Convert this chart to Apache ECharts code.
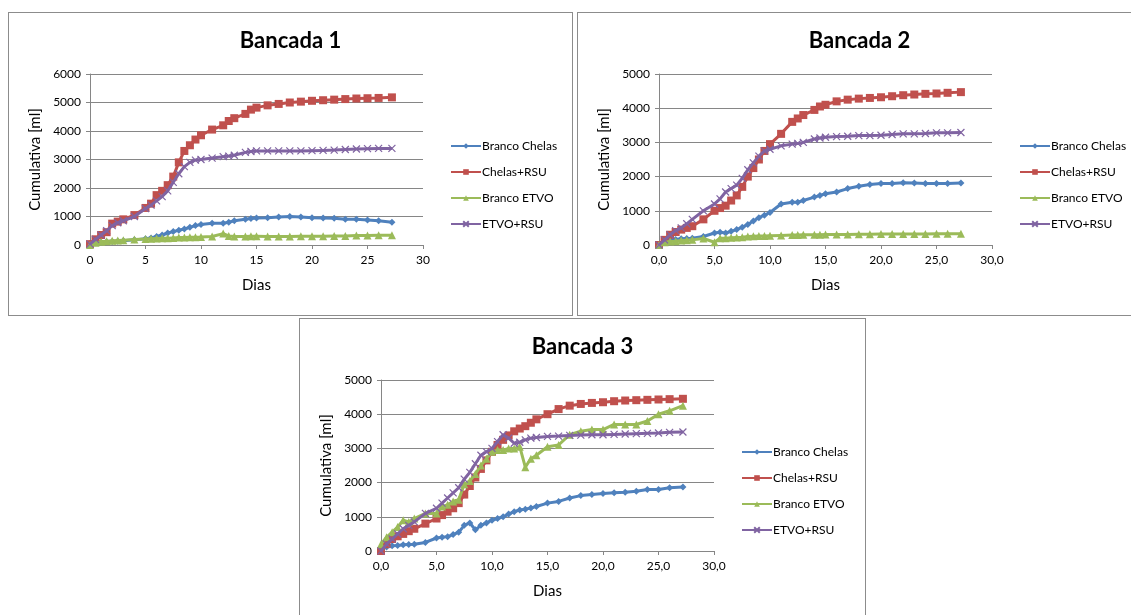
<!DOCTYPE html>
<html lang="pt">
<head>
    <meta charset="UTF-8">
    <title>Bancadas</title>
    <script src="https://cdn.jsdelivr.net/npm/echarts@6/dist/echarts.min.js"></script>
    <style>
        body { margin: 0; background: #fff; width: 1131px; height: 615px; overflow: hidden; position: relative; }
        .painel { position: absolute; border: 1px solid #8c8c8c; background: #fff; box-sizing: border-box; }
    </style>
</head>
<body>
<div id="b1" class="painel" style="left:8px;top:12px;width:565px;height:304px;"></div>
<div id="b2" class="painel" style="left:577px;top:12px;width:565px;height:304px;"></div>
<div id="b3" class="painel" style="left:299px;top:318px;width:567px;height:304px;"></div>

<script>
    // nomes das séries
    var nomes = ['Branco Chelas', 'Chelas+RSU', 'Branco ETVO', 'ETVO+RSU'];
    var cores = ['#4f81bd', '#c0504d', '#9bbb59', '#8064a2'];

    // Bancada 1 e 2 - dias
    var dias12 = [0, 0.5, 1, 1.5, 2, 2.5, 3, 4, 5, 5.5, 6, 6.5, 7, 7.5, 8, 8.5, 9, 9.5, 10, 11, 12, 12.5, 13, 14, 14.5, 15, 16, 17, 18, 19, 20, 21, 22, 23, 24, 25, 26, 27.2];

    // Bancada 1
    var b1BrancoChelas = [50, 80, 100, 110, 120, 130, 150, 180, 220, 250, 300, 350, 420, 470, 520, 560, 620, 680, 720, 760, 760, 800, 850, 900, 930, 950, 960, 980, 1000, 980, 960, 950, 940, 900, 900, 880, 850, 800];
    var b1ChelasRSU = [30, 200, 350, 450, 750, 820, 900, 1050, 1300, 1450, 1750, 1900, 2100, 2400, 2900, 3300, 3500, 3700, 3850, 4050, 4200, 4350, 4450, 4600, 4750, 4820, 4900, 4950, 5000, 5030, 5060, 5080, 5100, 5120, 5140, 5150, 5160, 5180];
    var b1BrancoETVO = [0, 80, 110, 130, 150, 160, 170, 190, 210, 220, 230, 235, 240, 250, 260, 265, 270, 275, 280, 300, 400, 320, 300, 300, 310, 310, 300, 300, 300, 310, 310, 310, 320, 320, 330, 330, 340, 340];
    var b1ETVORSU = [30, 200, 350, 500, 680, 780, 850, 1000, 1280, 1400, 1550, 1700, 1900, 2200, 2500, 2750, 2900, 2980, 3000, 3050, 3100, 3120, 3150, 3250, 3280, 3300, 3300, 3300, 3300, 3300, 3310, 3320, 3330, 3350, 3370, 3380, 3390, 3390];

    // Bancada 2
    var b2BrancoChelas = [0, 100, 150, 160, 180, 190, 200, 250, 350, 370, 350, 400, 450, 520, 600, 700, 800, 870, 950, 1200, 1250, 1250, 1300, 1400, 1450, 1500, 1550, 1650, 1720, 1770, 1800, 1800, 1820, 1810, 1800, 1800, 1800, 1810];
    var b2ChelasRSU = [0, 150, 300, 380, 450, 500, 550, 750, 1000, 1080, 1150, 1300, 1450, 1700, 2000, 2250, 2500, 2750, 2950, 3250, 3600, 3700, 3800, 3950, 4050, 4100, 4200, 4250, 4280, 4300, 4320, 4350, 4380, 4400, 4420, 4430, 4450, 4470];
    var b2BrancoETVO = [0, 80, 100, 110, 130, 140, 150, 190, 80, 200, 200, 210, 220, 230, 250, 255, 260, 265, 270, 280, 290, 295, 300, 300, 300, 305, 310, 310, 315, 315, 320, 320, 320, 325, 325, 330, 330, 330];
    var b2ETVORSU = [0, 150, 300, 420, 500, 620, 750, 1000, 1200, 1350, 1550, 1650, 1750, 1950, 2200, 2400, 2600, 2750, 2800, 2900, 2950, 2970, 3000, 3100, 3130, 3150, 3170, 3180, 3200, 3200, 3210, 3230, 3250, 3250, 3260, 3280, 3280, 3290];

    // Bancada 3
    var dias3 = [0, 0.5, 1, 1.5, 2, 2.5, 3, 4, 5, 5.5, 6, 6.5, 7, 7.5, 8, 8.5, 9, 9.5, 10, 10.5, 11, 11.5, 12, 12.5, 13, 13.5, 14, 15, 16, 17, 18, 19, 20, 21, 22, 23, 24, 25, 26, 27.2];
    var b3BrancoChelas = [100, 120, 150, 160, 180, 190, 200, 250, 380, 400, 420, 480, 550, 750, 820, 620, 750, 820, 900, 950, 1000, 1080, 1150, 1200, 1220, 1260, 1300, 1400, 1450, 1550, 1620, 1650, 1680, 1700, 1720, 1750, 1800, 1800, 1850, 1870];
    var b3ChelasRSU = [0, 200, 350, 430, 500, 580, 650, 800, 950, 1050, 1150, 1250, 1400, 1650, 1900, 2150, 2400, 2650, 2900, 3100, 3250, 3380, 3500, 3580, 3650, 3750, 3850, 4000, 4150, 4250, 4300, 4330, 4350, 4380, 4400, 4410, 4420, 4430, 4440, 4450];
    var b3BrancoETVO = [200, 400, 550, 700, 900, 850, 950, 1100, 1100, 1300, 1350, 1450, 1500, 1950, 2050, 2250, 2500, 2700, 2900, 2950, 2950, 3000, 3000, 3050, 2450, 2700, 2800, 3050, 3100, 3400, 3500, 3550, 3550, 3700, 3700, 3700, 3800, 4000, 4100, 4250];
    var b3ETVORSU = [0, 200, 350, 500, 650, 750, 850, 1100, 1250, 1400, 1550, 1700, 1850, 2100, 2300, 2550, 2800, 2900, 3000, 3200, 3400, 3300, 3150, 3180, 3250, 3300, 3320, 3350, 3360, 3380, 3390, 3400, 3400, 3410, 3420, 3430, 3440, 3450, 3470, 3480];

    var simbolos = ['diamond', 'rect', 'triangle', 'path://M0,0L10,10M10,0L0,10'];
    var tamanhos = [7, 8, 8, 7];
    var fonte = 'Lato, "Liberation Sans", sans-serif';

    function pares(xs, ys) {
        var out = [];
        for (var i = 0; i < xs.length; i++) out.push([xs[i], ys[i]]);
        return out;
    }

    function montar(id, titulo, dias, series, yMax, decimal) {
        var chart = echarts.init(document.getElementById(id));
        var seriesOpt = [];
        for (var i = 0; i < series.length; i++) {
            seriesOpt.push({
                name: nomes[i],
                type: 'line',
                data: pares(dias, series[i]),
                symbol: simbolos[i],
                symbolSize: tamanhos[i],
                lineStyle: { width: 3, color: cores[i] },
                itemStyle: { color: cores[i], borderColor: cores[i], borderWidth: i == 3 ? 1.2 : 0 },
                z: 2 + i
            });
        }
        chart.setOption({
            animation: false,
            color: cores,
            textStyle: { fontFamily: fonte },
            title: {
                text: titulo,
                left: 'center',
                top: 12,
                textStyle: { fontSize: 22, fontWeight: 'bold', color: '#000', fontFamily: fonte }
            },
            legend: {
                orient: 'vertical',
                left: 436,
                top: 122,
                itemWidth: 30,
                itemHeight: 7,
                itemGap: 14,
                textStyle: { fontSize: 12, color: '#000', padding: [0, 0, 0, -4] },
                data: nomes
            },
            grid: { left: 81, top: 61, width: 333, height: 171 },
            xAxis: {
                type: 'value',
                min: 0, max: 30, interval: 5,
                name: 'Dias',
                nameLocation: 'middle',
                nameGap: 33,
                nameTextStyle: { fontSize: 15, color: '#000' },
                axisLine: { onZero: false, lineStyle: { color: '#868686' } },
                axisTick: { show: true, length: 4, lineStyle: { color: '#868686' } },
                axisLabel: {
                    fontSize: 12, color: '#000', margin: 9,
                    formatter: function (v) { return decimal ? v.toFixed(1).replace('.', ',') : String(v); }
                },
                splitLine: { show: false }
            },
            yAxis: {
                type: 'value',
                min: 0, max: yMax, interval: 1000,
                name: 'Cumulativa [ml]',
                nameLocation: 'middle',
                nameGap: 42,
                nameTextStyle: { fontSize: 15, color: '#000' },
                axisLine: { show: true, lineStyle: { color: '#868686' } },
                axisTick: { show: true, length: 4, lineStyle: { color: '#868686' } },
                axisLabel: { fontSize: 12, color: '#000', margin: 9, formatter: function (v) { return String(v); } },
                splitLine: { lineStyle: { color: '#868686', width: 1 } }
            },
            series: seriesOpt
        });
    }

    montar('b1', 'Bancada 1', dias12, [b1BrancoChelas, b1ChelasRSU, b1BrancoETVO, b1ETVORSU], 6000, false);
    montar('b2', 'Bancada 2', dias12, [b2BrancoChelas, b2ChelasRSU, b2BrancoETVO, b2ETVORSU], 5000, true);
    montar('b3', 'Bancada 3', dias3, [b3BrancoChelas, b3ChelasRSU, b3BrancoETVO, b3ETVORSU], 5000, true);
</script>
</body>
</html>
